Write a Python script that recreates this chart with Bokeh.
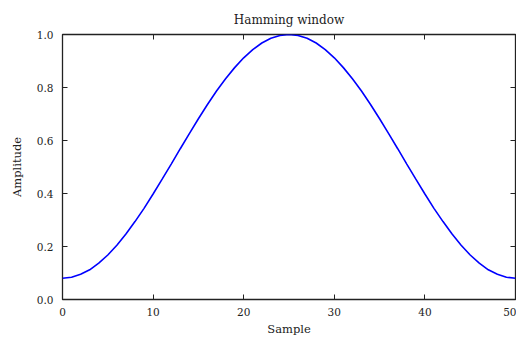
from bokeh.plotting import figure
from bokeh.models import LinearAxis, Range1d, FixedTicker, PrintfTickFormatter
from bokeh.embed import file_html
from bokeh.resources import INLINE

sample = list(range(51))
amplitude_half = [0.080, 0.084, 0.095, 0.112, 0.137, 0.168, 0.205, 0.247, 0.294,
                  0.344, 0.398, 0.454, 0.511, 0.569, 0.626, 0.682, 0.736, 0.787,
                  0.833, 0.875, 0.912, 0.943, 0.968, 0.986, 0.996, 1.000]
amplitude = amplitude_half + amplitude_half[-2::-1]

x_ticks = [0, 10, 20, 30, 40, 50]
y_ticks = [0.0, 0.2, 0.4, 0.6, 0.8, 1.0]

FONT = "DejaVu Serif"

p = figure(frame_width=453, frame_height=265, output_backend="svg", toolbar_location=None,
           x_range=Range1d(0, 50), y_range=Range1d(0, 1),
           min_border_left=62, min_border_right=1, min_border_top=34, min_border_bottom=38,
           title="Hamming window")
p.title.align = "center"
p.title.text_font = FONT
p.title.text_font_size = "12px"
p.title.text_font_style = "normal"
p.title.text_color = "#222222"
p.title.standoff = 16

p.line(sample, amplitude, line_color="#0000ff", line_width=1.6)

p.xgrid.visible = False
p.ygrid.visible = False
p.outline_line_color = "#222222"
p.outline_line_width = 1.3

def style(ax, ticks, labels=True):
    ax.ticker = FixedTicker(ticks=ticks)
    ax.axis_line_color = None
    ax.major_tick_in = 5
    ax.major_tick_out = 0
    ax.major_tick_line_color = "#222222"
    ax.minor_tick_line_color = None
    ax.major_label_text_font = FONT
    ax.major_label_text_font_size = "10.5px"
    ax.major_label_text_color = "#222222"
    ax.axis_label_text_font = FONT
    ax.axis_label_text_font_size = "11.5px"
    ax.axis_label_text_font_style = "normal"
    ax.axis_label_text_color = "#222222"
    if not labels:
        ax.major_label_overrides = {t: "" for t in ticks}
        ax.major_label_standoff = 0

style(p.xaxis[0], x_ticks)
style(p.yaxis[0], y_ticks)
p.xaxis[0].axis_label = "Sample"
p.yaxis[0].axis_label = "Amplitude"
p.xaxis[0].major_label_standoff = 8
p.xaxis[0].axis_label_standoff = 3
p.yaxis[0].major_label_standoff = 9
p.yaxis[0].axis_label_standoff = 10
p.yaxis[0].formatter = PrintfTickFormatter(format="%.1f")

top = LinearAxis()
style(top, x_ticks, labels=False)
p.add_layout(top, "above")
right = LinearAxis()
style(right, y_ticks, labels=False)
p.add_layout(right, "right")

open("out.html", "w").write(file_html(p, INLINE))
